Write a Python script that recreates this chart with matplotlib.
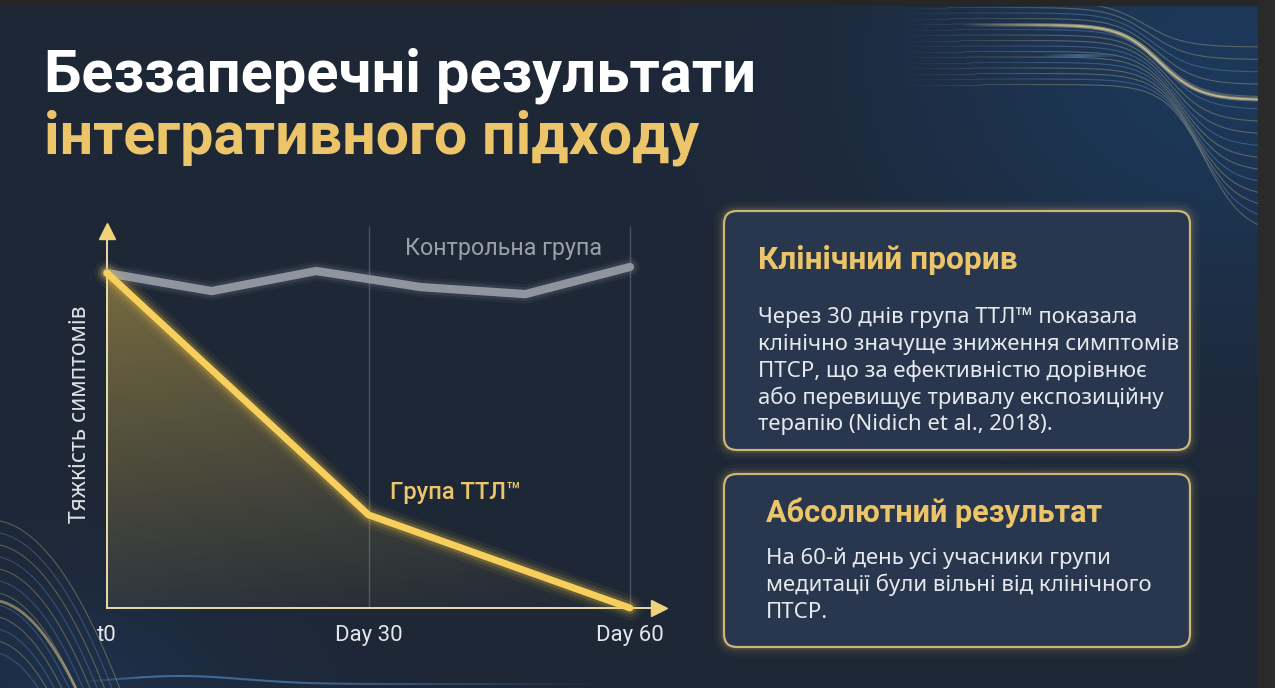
import numpy as np
import matplotlib
matplotlib.use("Agg")
import matplotlib.pyplot as plt
from matplotlib.patches import FancyBboxPatch, Polygon, Rectangle
from matplotlib.collections import LineCollection
from matplotlib.colors import to_rgb

# ---------------- data ----------------
control_days = [0, 12, 24, 36, 48, 60]
control_values = [100, 94.6, 100.6, 95.8, 93.7, 101.8]
ttl_days = [0, 30, 60]
ttl_values = [100, 27.8, 0]
tick_days = [0, 30, 60]
tick_labels = ["t0", "Day 30", "Day 60"]
y_label = "Тяжкість симптомів"
control_label = "Контрольна група"
ttl_label = "Група ТТЛ™"
title_line1 = "Беззаперечні результати"
title_line2 = "інтегративного підходу"
box1_title = "Клінічний прорив"
box1_lines = ["Через 30 днів група ТТЛ™ показала",
              "клінічно значуще зниження симптомів",
              "ПТСР, що за ефективністю дорівнює",
              "або перевищує тривалу експозиційну",
              "терапію (Nidich et al., 2018)."]
box2_title = "Абсолютний результат"
box2_lines = ["На 60-й день усі учасники групи",
              "медитації були вільні від клінічного",
              "ПТСР."]

GOLD = "#ecc56a"
LINE_GOLD = "#f7cf5c"
BG = "#1e2736"

W, H = 1275, 688
fig = plt.figure(figsize=(12.75, 6.88), dpi=100)
fig.patch.set_facecolor(BG)
bg = fig.add_axes([0, 0, 1, 1])
bg.set_xlim(0, W)
bg.set_ylim(H, 0)
bg.axis("off")

# background gradient
yy, xx = np.mgrid[0:H, 0:W]
base = np.array(to_rgb(BG))
blue = np.array(to_rgb("#1c3a5e"))
wgt = np.exp(-(((xx - 1230) / 330.0) ** 2 + ((yy - 60) / 260.0) ** 2)) * 0.9
wgt += np.exp(-(((xx - 40) / 200.0) ** 2 + ((yy - 700) / 120.0) ** 2)) * 0.5
wgt = np.clip(wgt, 0, 1)[..., None]
img = base * (1 - wgt) + blue * wgt
bg.imshow(img, extent=[0, W, H, 0], aspect="auto", zorder=0, interpolation="bilinear")


def faded_curve(x, y, color, alpha, lw, fade_left=None, fade_right=None):
    pts = np.column_stack([x, y])
    segs = np.stack([pts[:-1], pts[1:]], axis=1)
    xm = (x[:-1] + x[1:]) / 2
    a = np.full(len(xm), alpha)
    if fade_left is not None:
        a *= np.clip((xm - fade_left[0]) / (fade_left[1] - fade_left[0]), 0, 1)
    if fade_right is not None:
        a *= np.clip((fade_right[1] - xm) / (fade_right[1] - fade_right[0]), 0, 1)
    rgb = np.array(to_rgb(color))
    cols = np.column_stack([np.tile(rgb, (len(xm), 1)), a])
    lc = LineCollection(segs, colors=cols, linewidths=lw, zorder=1)
    bg.add_collection(lc)


# decorative waves top-right
xw = np.linspace(880, 1260, 400)
for i in range(16):
    y0 = 2 + i * 5.5
    A = 45 + i * 7
    xc = 1145 + i * 4
    yv = y0 + A * (1 + np.tanh((xw - xc) / 40.0)) / 2
    col = "#d9c58a" if i % 3 != 2 else "#7fa6d6"
    faded_curve(xw, yv, col, 0.35, 0.8, fade_left=(900, 1060))
yv = 25 + 75 * (1 + np.tanh((xw - 1160) / 40.0)) / 2
faded_curve(xw, yv, "#f0dc9c", 0.40, 3.0, fade_left=(960, 1080))
faded_curve(xw, yv, "#f0dc9c", 0.75, 1.2, fade_left=(960, 1080))
faded_curve(xw, 55 + 0 * xw, "#6fa8e6", 0.5, 2.0, fade_left=(1040, 1080), fade_right=(1080, 1120))

# decorative waves bottom-left
xb = np.linspace(-5, 260, 300)
for i in range(12):
    y0 = 520 + i * 12
    yv = y0 + 0.010 * (xb + 10) ** 2 * (1 + i * 0.05)
    col = "#d9c58a" if i % 2 == 0 else "#6f9ad0"
    faded_curve(xb, yv, col, 0.35, 0.8)
yv = 600 + 0.012 * (xb + 10) ** 2
faded_curve(xb, yv, "#e6cf8a", 0.55, 2.0)
xb2 = np.linspace(80, 650, 300)
yb2 = 684 - 8 * np.exp(-((xb2 - 180) / 90.0) ** 2)
faded_curve(xb2, yb2, "#5d97d8", 0.6, 1.5, fade_left=(80, 140), fade_right=(300, 600))

# frame strips (screenshot border)
bg.add_patch(Rectangle((0, 0), W, 5, color="#262626", zorder=10))
bg.add_patch(Rectangle((1258, 0), W - 1258, H, color="#2a2a2a", zorder=10))


# ---------- text helpers ----------
def fit_text(x, y, s, target_w, size, axes=None, **kw):
    a = axes if axes is not None else bg
    t = a.text(x, y, s, fontsize=size, **kw)
    r = fig.canvas.get_renderer()
    w = t.get_window_extent(renderer=r).width
    t.set_fontsize(size * target_w / w)
    return t


fit_text(44, 92, title_line1, 712, 44, color="white", fontweight="bold",
         family="Roboto", va="baseline", ha="left", zorder=5)
fit_text(44, 153, title_line2, 655, 44, color=GOLD, fontweight="bold",
         family="Roboto", va="baseline", ha="left", zorder=5)

# ---------- info boxes ----------
def info_box(x0, y0, x1, y1):
    for lw, a in [(14, 0.04), (9, 0.06), (5, 0.10)]:
        bg.add_patch(FancyBboxPatch((x0, y0), x1 - x0, y1 - y0,
                                    boxstyle="round,pad=0,rounding_size=13",
                                    fc="none", ec="#e8c46a", lw=lw, alpha=a, zorder=2))
    bg.add_patch(FancyBboxPatch((x0, y0), x1 - x0, y1 - y0,
                                boxstyle="round,pad=0,rounding_size=13",
                                fc="#28374d", ec="#cdb57a", lw=1.6, zorder=3))


info_box(724, 211, 1190, 450)
info_box(724, 474, 1190, 647)

fit_text(758, 260, box1_title, 259, 20, color=GOLD, fontweight="bold",
         family="Roboto", va="center", ha="left", zorder=5)
t0 = fit_text(758, 318, box1_lines[0], 379, 14, color="#e6e9ee",
              family="Noto Sans", va="center", ha="left", zorder=5)
body_size = t0.get_fontsize()
for k, line in enumerate(box1_lines[1:], start=1):
    bg.text(758, 318 + k * 26.7, line, fontsize=body_size, color="#e6e9ee",
            family="Noto Sans", va="center", ha="left", zorder=5)

fit_text(766, 513, box2_title, 335, 20, color=GOLD, fontweight="bold",
         family="Roboto", va="center", ha="left", zorder=5)
for k, line in enumerate(box2_lines):
    bg.text(766, 558 + k * 27.3, line, fontsize=body_size, color="#e6e9ee",
            family="Noto Sans", va="center", ha="left", zorder=5)

# ---------- chart axes ----------
px_per_day = (630 - 107) / 60.0
px_per_unit = (608 - 273) / 100.0
x_left, x_right, y_bot, y_top = 107, 662, 608, 228
ax = fig.add_axes([x_left / W, (H - y_bot) / H, (x_right - x_left) / W, (y_bot - y_top) / H])
ax.set_xlim(0, (x_right - x_left) / px_per_day)
ax.set_ylim(0, (y_bot - y_top) / px_per_unit)
ax.patch.set_alpha(0)
for sp in ["top", "right"]:
    ax.spines[sp].set_visible(False)
for sp in ["left", "bottom"]:
    ax.spines[sp].set_color("#e9dcae")
    ax.spines[sp].set_linewidth(1.4)
xmax = ax.get_xlim()[1]
ymax = ax.get_ylim()[1]
ax.plot([xmax - 0.3], [0], marker=">", ms=11, color="#f0d27a", clip_on=False, zorder=6)
ax.plot([0], [ymax - 1.0], marker="^", ms=11, color="#f0d27a", clip_on=False, zorder=6)

ax.set_xticks(tick_days, tick_labels)
ax.set_yticks([])
ax.tick_params(axis="x", length=0, pad=12, labelsize=16, labelcolor="#e3e6ea")
for lab in ax.get_xticklabels():
    lab.set_family("Roboto")

ax.vlines([30, 60], 0, ymax + 0.5, color="#4a5363", lw=1.0, zorder=1, clip_on=False)

# gradient fill under TTL line
poly = Polygon(list(zip([0] + ttl_days, [0] + ttl_values)), closed=True,
               fc="none", ec="none", transform=ax.transData)
ax.add_patch(poly)
gy = np.linspace(1, 0, 200)[:, None]
gx = np.linspace(0, 1, 200)[None, :]
alpha = np.clip(0.10 + 0.38 * gy - 0.08 * gx, 0, 1)
gimg = np.zeros((200, 200, 4))
gimg[..., 0], gimg[..., 1], gimg[..., 2] = to_rgb("#d9b44a")
gimg[..., 3] = alpha
im = ax.imshow(gimg, extent=[0, 60, 0, 100], aspect="auto", zorder=2, interpolation="bilinear")
im.set_clip_path(poly)


def glow_line(x, y, color, lw, gcolor, layers, z):
    for w, a in layers:
        ax.plot(x, y, color=gcolor, lw=w, alpha=a, solid_joinstyle="round",
                solid_capstyle="round", clip_on=False, zorder=z)
    ax.plot(x, y, color=color, lw=lw, solid_joinstyle="round",
            solid_capstyle="round", clip_on=False, zorder=z)


glow_line(control_days, control_values, "#8e959f", 6.0, "#b0b8c2",
          [(14, 0.06), (10, 0.10)], 3)
glow_line(ttl_days, ttl_values, LINE_GOLD, 5.0, "#f5c542",
          [(18, 0.06), (13, 0.10), (9, 0.18)], 4)

fit_text((405 - 107) / px_per_day, (608 - 249) / px_per_unit, control_label, 198, 15,
         axes=ax, color="#98a0ab", family="Roboto", ha="left", va="center", zorder=5)
fit_text((390 - 107) / px_per_day, (608 - 492) / px_per_unit, ttl_label, 132, 15,
         axes=ax, color=GOLD, family="Roboto", fontweight="medium",
         ha="left", va="center", zorder=5)

# rotated y-axis label: fit its height (its length on screen) to the reference
yl = bg.text(80, 414, y_label, rotation=90, fontsize=15, color="#dde1e7",
             family="Noto Sans", ha="center", va="center", zorder=5)
hgt = yl.get_window_extent(renderer=fig.canvas.get_renderer()).height
yl.set_fontsize(15 * 218 / hgt)

fig.savefig("out.png", dpi=100, facecolor=fig.get_facecolor())
